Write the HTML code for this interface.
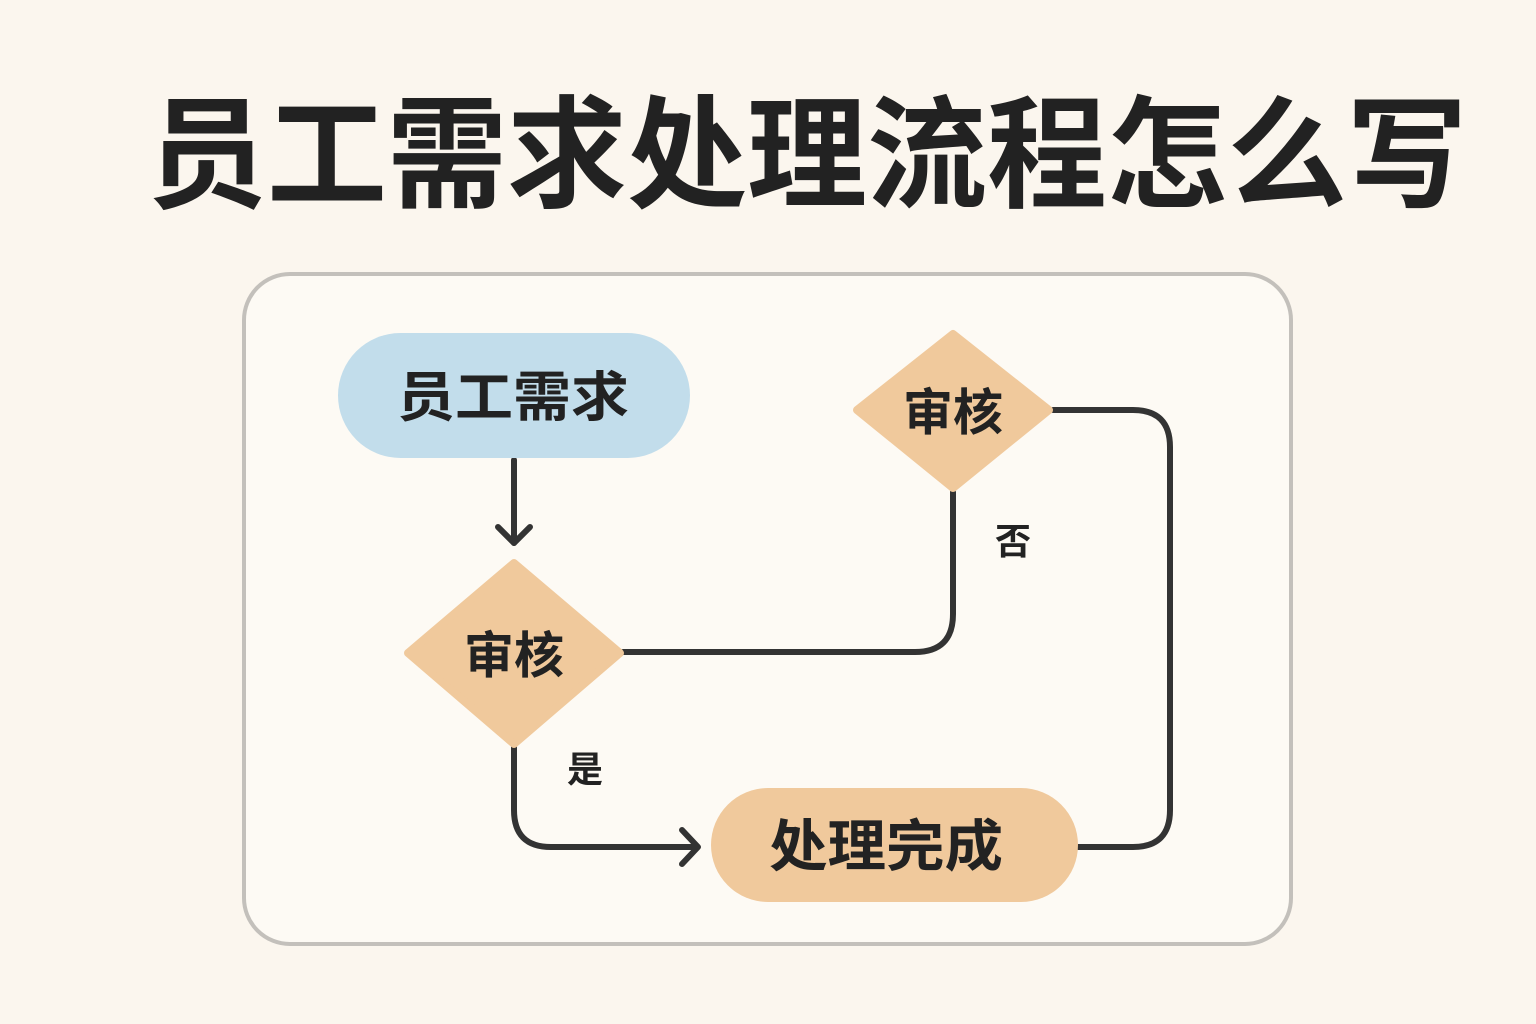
<!DOCTYPE html>
<html><head><meta charset="utf-8"><style>
html,body{margin:0;padding:0;width:1536px;height:1024px;background:#fbf6ee;overflow:hidden}
svg{display:block}
text{font-family:"Liberation Sans","Noto Sans CJK SC",sans-serif;font-weight:700;fill:#222}
</style></head><body>
<svg width="1536" height="1024" viewBox="0 0 1536 1024" xmlns="http://www.w3.org/2000/svg">
<rect width="1536" height="1024" fill="#fbf6ee"/>
<text x="807" y="198" font-size="122" text-anchor="middle" textLength="1320" lengthAdjust="spacingAndGlyphs">员工需求处理流程怎么写</text>
<rect x="244" y="274" width="1047" height="670" rx="46" fill="#fdfaf4" stroke="#c3c0bb" stroke-width="4"/>
<g fill="none" stroke="#333" stroke-width="6" stroke-linecap="round" stroke-linejoin="round">
<path d="M514 460 V543"/>
<path d="M498 527 L514 543 L530 527"/>
<path d="M623 652 H915 Q953 652 953 614 V492"/>
<path d="M514 747 V810 Q514 847 551 847 H697"/>
<path d="M682 830 L698 847 L682 864"/>
<path d="M1078 847 H1133 Q1170 847 1170 810 V447 Q1170 410 1133 410 H1053"/>
</g>
<rect x="338" y="333" width="352" height="125" rx="62.5" fill="#c2ddeb"/>
<text x="513" y="416" font-size="54" text-anchor="middle" textLength="232" lengthAdjust="spacingAndGlyphs">员工需求</text>
<polygon points="514,563 620,653 514,744 408,653" fill="#f0c99c" stroke="#f0c99c" stroke-width="8" stroke-linejoin="round"/>
<text x="514" y="673" font-size="50" text-anchor="middle">审核</text>
<polygon points="953,334 1049,410 953,488 857,410" fill="#f0c99c" stroke="#f0c99c" stroke-width="8" stroke-linejoin="round"/>
<text x="953" y="430" font-size="50" text-anchor="middle">审核</text>
<text x="1013" y="554" font-size="36" text-anchor="middle">否</text>
<text x="585" y="782" font-size="36" text-anchor="middle">是</text>
<rect x="711" y="788" width="367" height="114" rx="57" fill="#f0c99c"/>
<text x="886" y="866" font-size="56" text-anchor="middle" textLength="234" lengthAdjust="spacingAndGlyphs">处理完成</text>
</svg>
</body></html>
